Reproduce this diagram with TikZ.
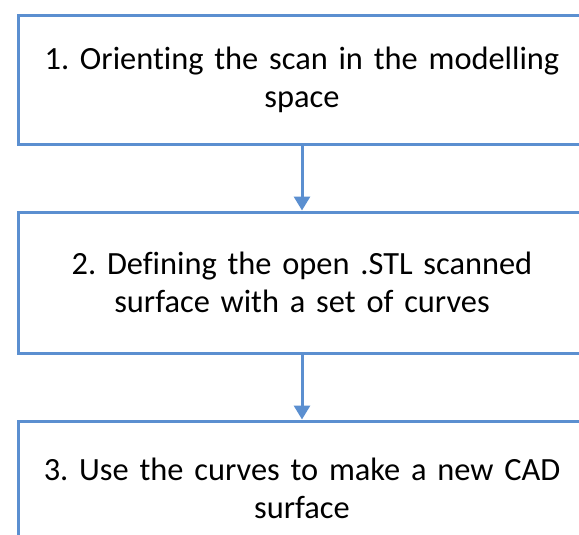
\documentclass[tikz,border=0pt]{standalone}
\usepackage{fontspec}
\setmainfont[Ligatures=NoCommon,WordSpace=0.8]{Carlito}
\usetikzlibrary{arrows.meta}
\definecolor{boxblue}{HTML}{5B8FD0}
\begin{document}
\frenchspacing
\begin{tikzpicture}[x=1pt,y=1pt,
  stepbox/.style={draw=boxblue,line width=3pt,fill=white,minimum width=568pt,inner sep=0pt,
    align=center,text width=560pt,font=\fontsize{32.4}{38}\selectfont\frenchspacing},
  conn/.style={draw=boxblue,line width=3pt,-{Triangle[width=16pt,length=14pt]}}]
\useasboundingbox (0,0) rectangle (579,-535);
\node[stepbox,minimum height=128pt] (b1) at (302,-80) {1. Orienting the scan in the modelling\\space};
\node[stepbox,minimum height=141pt] (b2) at (302,-282.5) {2. Defining the open .STL scanned\\surface with a set of curves};
\node[stepbox,minimum height=134pt] (b3) at (302,-488) {3. Use the curves to make a new CAD\\surface};
\draw[conn] (b1.south) -- (b2.north);
\draw[conn] (b2.south) -- (b3.north);
\end{tikzpicture}
\end{document}
